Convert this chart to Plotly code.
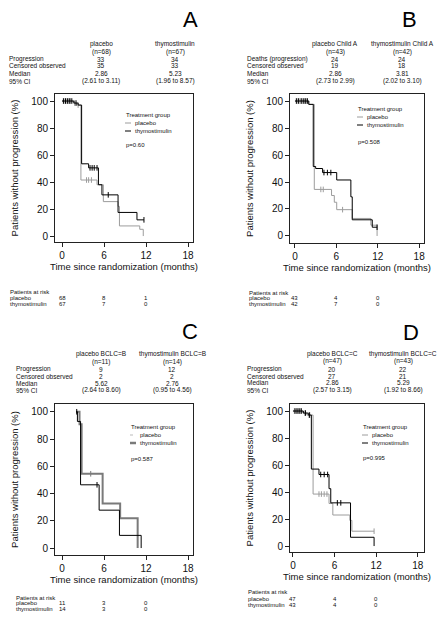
import plotly.graph_objects as go

W, H = 448, 628
FONT = "Liberation Sans, Arial, sans-serif"
PLAC_COLOR = "#9c9c9c"
THYM_COLOR = "#000000"

# ---------------- data ----------------
panel_letters = ["A", "B", "C", "D"]
groups = ["placebo", "thymostimulin"]
risk_times = [0, 6, 12]
x_ticks = [0, 6, 12, 18]
y_ticks = [0, 20, 40, 60, 80, 100]

# Panel A
A_plac_t = [0, 1.6, 2.1, 2.7, 5.0, 5.9, 8.0, 8.2, 11.1, 11.6]
A_plac_s = [100, 98.5, 97, 41.5, 38, 25.5, 22, 7.5, 5, 0]
A_plac_ct = [0.3, 0.6, 0.9, 1.2, 1.8, 2.3, 3.5, 3.8, 4.2]
A_thym_t = [0, 1.7, 2.3, 2.8, 3.8, 5.2, 5.7, 8.0, 10.7, 11.7]
A_thym_s = [100, 98.5, 97, 53.5, 50.5, 38, 30.5, 17.5, 12, 12]
A_thym_ct = [0.2, 0.5, 0.8, 1.1, 1.4, 2.0, 4.0, 4.3, 4.6, 5.0, 6.6, 11.7]

# Panel B
B_plac_t = [0, 2.0, 2.8, 5.3, 5.7, 6.05, 8.3, 11.0, 11.9]
B_plac_s = [100, 97.5, 34.5, 30, 25, 19.5, 13, 8, 0]
B_plac_ct = [0.3, 0.7, 1.0, 1.4, 1.7, 3.75, 4.1, 6.9]
B_thym_t = [0, 2.0, 2.65, 3.0, 4.0, 6.05, 8.1, 8.3, 11.2, 11.9]
B_thym_s = [100, 97.5, 51.5, 50, 47, 41.5, 29, 12, 6.5, 6.5]
B_thym_ct = [0.2, 0.5, 0.9, 1.2, 1.5, 1.8, 4.2, 4.7, 5.2, 11.9]

# Panel C
C_plac_t = [2.0, 2.5, 2.8, 5.8, 8.3, 10.8]
C_plac_s = [100, 90.9, 54.5, 32.7, 21.8, 0]
C_plac_ct = [4.1]
C_thym_t = [2.0, 2.2, 2.65, 5.3, 8.2, 11.3]
C_thym_s = [100, 92.9, 46.4, 27.8, 9.3, 0]
C_thym_ct = [2.1, 5.0]

# Panel D
D_plac_t = [0, 1.4, 2.0, 2.9, 5.2, 5.75, 8.2, 8.5, 11.7]
D_plac_s = [100, 98.5, 97, 38.5, 31.5, 23, 19, 11, 11]
D_plac_ct = [0.2, 0.5, 0.8, 1.1, 1.7, 2.3, 3.75, 4.1, 4.5, 4.9, 11.7]
D_thym_t = [0, 1.5, 2.2, 2.65, 3.75, 5.2, 5.45, 8.3, 11.7]
D_thym_s = [100, 98.5, 97, 57, 53, 42.5, 32, 6.5, 0]
D_thym_ct = [0.3, 0.6, 0.9, 1.2, 1.8, 2.4, 4.0, 4.5, 5.0, 6.4, 6.9]

p_values = ["p=0.60", "p=0.508", "p=0.587", "p=0.995"]

# Summary tables
A_headers = ["placebo", "thymostimulin"]
B_headers = ["placebo Child A", "thymostimulin Child A"]
C_headers = ["placebo BCLC=B", "thymostimulin BCLC=B"]
D_headers = ["placebo BCLC=C", "thymostimulin BCLC=C"]
A_n = [68, 67]
B_n = [43, 42]
C_n = [11, 14]
D_n = [47, 43]
A_rows = ["Progression", "Censored observed", "Median", "95% CI"]
B_rows = ["Deaths (progression)", "Censored observed", "Median", "95% CI"]
C_rows = ["Progression", "Censored observed", "Median", "95% CI"]
D_rows = ["Progression", "Censored observed", "Median", "95% CI"]
A_plac_vals = ["33", "35", "2.86", "(2.61 to 3.11)"]
A_thym_vals = ["34", "33", "5.23", "(1.96 to 8.57)"]
B_plac_vals = ["24", "19", "2.86", "(2.73 to 2.99)"]
B_thym_vals = ["24", "18", "3.81", "(2.02 to 3.10)"]
C_plac_vals = ["9", "2", "5.62", "(2.64 to 8.60)"]
C_thym_vals = ["12", "2", "2.76", "(0.95 to 4.56)"]
D_plac_vals = ["20", "27", "2.86", "(2.57 to 3.15)"]
D_thym_vals = ["22", "21", "5.29", "(1.92 to 8.66)"]

# Patients at risk
A_risk_plac = [68, 8, 1]
A_risk_thym = [67, 7, 0]
B_risk_plac = [43, 4, 0]
B_risk_thym = [42, 7, 0]
C_risk_plac = [11, 3, 0]
C_risk_thym = [14, 3, 0]
D_risk_plac = [47, 4, 0]
D_risk_thym = [43, 4, 0]


def px(x):
    return x / W


def py(y):
    return 1 - y / H


def surv_at(ts, ss, t):
    v = ss[0]
    for ti, si in zip(ts, ss):
        if ti <= t:
            v = si
    return v


panels = [
    dict(letter="A", ax="", curves=(A_plac_t, A_plac_s, A_plac_ct, A_thym_t, A_thym_s, A_thym_ct),
         headers=A_headers, n=A_n, rows=A_rows, vals=(A_plac_vals, A_thym_vals),
         risk=(A_risk_plac, A_risk_thym), p=p_values[0],
         xdom=(55, 193), ydom=(94, 242), xr=(-1.0, 18.7), yr=(-4.4, 105.2),
         letter_pos=(190, 20), row_x=7, col_x=(101, 175), tab_y=(44, 52, 59, 66, 73, 81),
         leg=(124, 115, 123, 131, 145), risk_x=8, risk_y=(292, 298, 304),
         placw=1, thymw=1, placc=PLAC_COLOR, thymc=THYM_COLOR, legend_c=False),
    dict(letter="B", ax="2", curves=(B_plac_t, B_plac_s, B_plac_ct, B_thym_t, B_thym_s, B_thym_ct),
         headers=B_headers, n=B_n, rows=B_rows, vals=(B_plac_vals, B_thym_vals),
         risk=(B_risk_plac, B_risk_thym), p=p_values[1],
         xdom=(290, 424), ydom=(94, 243), xr=(-0.72, 18.7), yr=(-5.2, 105.2),
         letter_pos=(409, 20), row_x=245, col_x=(335, 402), tab_y=(44, 52, 59, 66, 73, 81),
         leg=(356, 109, 117, 125, 142), risk_x=247, risk_y=(293, 298, 304),
         placw=1, thymw=1, placc=PLAC_COLOR, thymc=THYM_COLOR, legend_c=False),
    dict(letter="C", ax="3", curves=(C_plac_t, C_plac_s, C_plac_ct, C_thym_t, C_thym_s, C_thym_ct),
         headers=C_headers, n=C_n, rows=C_rows, vals=(C_plac_vals, C_thym_vals),
         risk=(C_risk_plac, C_risk_thym), p=p_values[2],
         xdom=(55, 193), ydom=(404, 555), xr=(-1.0, 18.7), yr=(-5.1, 105.7),
         letter_pos=(190, 331), row_x=14, col_x=(101, 172), tab_y=(354, 362, 369, 376, 383, 390),
         leg=(129, 427, 435, 443, 459), risk_x=14, risk_y=(598, 603, 609),
         placw=2, thymw=1, placc="#7a7a7a", thymc=THYM_COLOR, legend_c=True),
    dict(letter="D", ax="4", curves=(D_plac_t, D_plac_s, D_plac_ct, D_thym_t, D_thym_s, D_thym_ct),
         headers=D_headers, n=D_n, rows=D_rows, vals=(D_plac_vals, D_thym_vals),
         risk=(D_risk_plac, D_risk_thym), p=p_values[3],
         xdom=(290, 424), ydom=(404, 552), xr=(-0.43, 18.9), yr=(-4.4, 105.2),
         letter_pos=(411, 332), row_x=245, col_x=(332, 403), tab_y=(354, 361, 369, 376, 382, 390),
         leg=(361, 427, 435, 443, 458), risk_x=246, risk_y=(592, 599, 605),
         placw=1, thymw=1, placc=PLAC_COLOR, thymc=THYM_COLOR, legend_c=False),
]

fig = go.Figure()
annotations = []
shapes = []
layout_axes = {}
SMALL = 6.5

for P in panels:
    xa = "x" + P["ax"]
    ya = "y" + P["ax"]
    pt, ps, pct, tt, tsv, tct = P["curves"]
    for name, t, s, ct, col, w in [("placebo", pt, ps, pct, P["placc"], P["placw"]),
                                    ("thymostimulin", tt, tsv, tct, P["thymc"], P["thymw"])]:
        fig.add_trace(go.Scatter(x=t, y=s, mode="lines", name=name, showlegend=False,
                                 line=dict(shape="hv", color=col, width=w),
                                 xaxis=xa, yaxis=ya, hoverinfo="skip"))
        fig.add_trace(go.Scatter(x=ct, y=[surv_at(t, s, c) for c in ct], mode="markers",
                                 name=name + " censored", showlegend=False,
                                 marker=dict(symbol="line-ns", size=4,
                                             line=dict(width=1, color=col)),
                                 xaxis=xa, yaxis=ya, hoverinfo="skip"))

    x0, x1 = P["xdom"]
    y0, y1 = P["ydom"]
    common = dict(showline=True, mirror=True, linecolor="#222", linewidth=1,
                  ticks="outside", ticklen=4, tickcolor="#222", showgrid=False,
                  zeroline=False, tickfont=dict(family=FONT, size=10, color="#111"))
    layout_axes["xaxis" + P["ax"]] = dict(
        domain=[px(x0), px(x1)], range=list(P["xr"]), anchor=ya, tickvals=x_ticks,
        title=dict(text="Time since randomization (months)",
                   font=dict(family=FONT, size=9.5, color="#111"), standoff=2),
        **common)
    layout_axes["yaxis" + P["ax"]] = dict(
        domain=[py(y1), py(y0)], range=list(P["yr"]), anchor=xa, tickvals=y_ticks,
        title=dict(text="Patients without progression (%)",
                   font=dict(family=FONT, size=9.5, color="#111"), standoff=10),
        **common)

    # Panel letter
    lx, ly = P["letter_pos"]
    annotations.append(dict(text=P["letter"], x=px(lx), y=py(ly), xref="paper", yref="paper",
                            showarrow=False, xanchor="center", yanchor="middle",
                            font=dict(family=FONT, size=22, color="#000")))

    # Summary table
    ty = P["tab_y"]
    for ci, cx in enumerate(P["col_x"]):
        annotations.append(dict(text=P["headers"][ci], x=px(cx), y=py(ty[0]), xref="paper",
                                yref="paper", showarrow=False, xanchor="center", yanchor="middle",
                                font=dict(family=FONT, size=SMALL, color="#111")))
        annotations.append(dict(text="(n=%d)" % P["n"][ci], x=px(cx), y=py(ty[1]), xref="paper",
                                yref="paper", showarrow=False, xanchor="center", yanchor="middle",
                                font=dict(family=FONT, size=SMALL, color="#111")))
        for ri in range(4):
            annotations.append(dict(text=P["vals"][ci][ri], x=px(cx), y=py(ty[2 + ri]),
                                    xref="paper", yref="paper", showarrow=False,
                                    xanchor="center", yanchor="middle",
                                    font=dict(family=FONT, size=SMALL, color="#111")))
    for ri, lab in enumerate(P["rows"]):
        annotations.append(dict(text=lab, x=px(P["row_x"]), y=py(ty[2 + ri]), xref="paper",
                                yref="paper", showarrow=False, xanchor="left", yanchor="middle",
                                font=dict(family=FONT, size=SMALL, color="#111")))

    # In-plot legend
    lgx, lgy0, lgy1, lgy2, lgp = P["leg"]
    annotations.append(dict(text="Treatment group", x=px(lgx), y=py(lgy0), xref="paper",
                            yref="paper", showarrow=False, xanchor="left", yanchor="middle",
                            font=dict(family=FONT, size=6, color="#111")))
    for yy, name in [(lgy1, groups[0]), (lgy2, groups[1])]:
        annotations.append(dict(text=name, x=px(lgx + 9), y=py(yy), xref="paper",
                                yref="paper", showarrow=False, xanchor="left", yanchor="middle",
                                font=dict(family=FONT, size=6, color="#111")))
    if P["legend_c"]:
        shapes.append(dict(type="line", xref="paper", yref="paper", x0=px(lgx + 1),
                           x1=px(lgx + 7), y0=py(lgy1), y1=py(lgy1),
                           line=dict(color="#bbbbbb", width=1, dash="dot")))
        shapes.append(dict(type="line", xref="paper", yref="paper", x0=px(lgx + 1),
                           x1=px(lgx + 7), y0=py(lgy2), y1=py(lgy2),
                           line=dict(color="#7a7a7a", width=2.5)))
    else:
        shapes.append(dict(type="line", xref="paper", yref="paper", x0=px(lgx + 1),
                           x1=px(lgx + 7), y0=py(lgy1), y1=py(lgy1),
                           line=dict(color=PLAC_COLOR, width=1)))
        shapes.append(dict(type="line", xref="paper", yref="paper", x0=px(lgx + 1),
                           x1=px(lgx + 7), y0=py(lgy2), y1=py(lgy2),
                           line=dict(color=THYM_COLOR, width=1)))
    annotations.append(dict(text=P["p"], x=px(lgx), y=py(lgp), xref="paper",
                            yref="paper", showarrow=False, xanchor="left", yanchor="middle",
                            font=dict(family=FONT, size=6, color="#111")))

    # Patients at risk
    ry = P["risk_y"]
    annotations.append(dict(text="Patients at risk", x=px(P["risk_x"]), y=py(ry[0]),
                            xref="paper", yref="paper", showarrow=False, xanchor="left",
                            yanchor="middle", font=dict(family=FONT, size=6, color="#111")))
    for gi, g in enumerate(groups):
        annotations.append(dict(text=g, x=px(P["risk_x"]), y=py(ry[1 + gi]),
                                xref="paper", yref="paper", showarrow=False, xanchor="left",
                                yanchor="middle", font=dict(family=FONT, size=6, color="#111")))
        for tval, nval in zip(risk_times, P["risk"][gi]):
            annotations.append(dict(text=str(nval), x=tval, y=py(ry[1 + gi]),
                                    xref=xa, yref="paper", showarrow=False, xanchor="center",
                                    yanchor="middle",
                                    font=dict(family=FONT, size=6, color="#111")))

fig.update_layout(
    width=W, height=H, margin=dict(l=0, r=0, t=0, b=0),
    paper_bgcolor="white", plot_bgcolor="white",
    showlegend=False, annotations=annotations, shapes=shapes,
    font=dict(family=FONT, color="#111"),
    hovermode=False,
    **layout_axes,
)

fig.write_html("out.html",
               config={"displayModeBar": False, "staticPlot": True},
               post_script="document.body.style.margin='0px';document.body.style.overflow='hidden';")
